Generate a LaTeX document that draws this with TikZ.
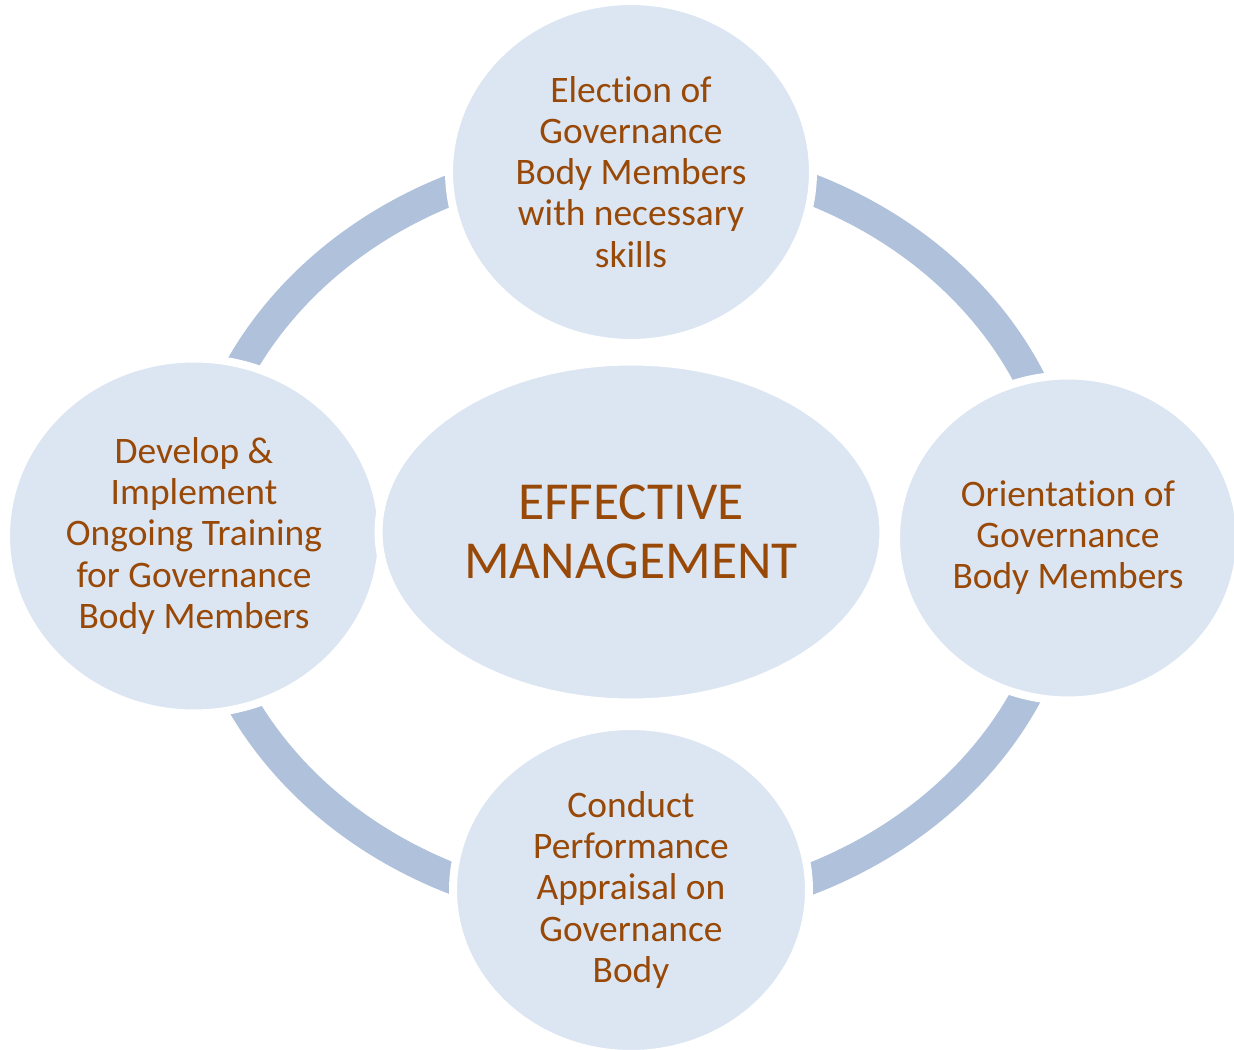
\documentclass[tikz,border=0pt]{standalone}
\usepackage{fontspec}
\setmainfont[Ligatures={NoCommon,NoContextual}, RawFeature={-liga;-dlig;-clig}]{Carlito}
\usepackage{tikz}
\usetikzlibrary{shapes.geometric}
\definecolor{ringblue}{RGB}{176,193,219}
\definecolor{bubblefill}{RGB}{220,230,242}
\definecolor{textbrown}{RGB}{152,72,7}
\newcommand{\ringwidth}{0.62cm}
\newcommand{\gapwidth}{0.16cm}
\tikzset{
    bubble/.style={ellipse, fill=bubblefill, draw=white, line width=\gapwidth, inner sep=0pt,
        align=center, text=textbrown, font=\fontsize{21.3}{23.4}\selectfont},
    hub/.style={bubble, font=\fontsize{30.4}{33.6}\selectfont},
    ring/.style={draw=ringblue, line width=\ringwidth}
}

\begin{document}
\begin{tikzpicture}[x=0.02cm, y=-0.02cm]
    \useasboundingbox (0,0) rectangle (1234,1050);
    \draw[ring] (632,534) ellipse [x radius=436, y radius=378];
    \node[bubble, minimum width=7.28cm, minimum height=6.84cm] (election) at (631,172)
        {Election of\\Governance\\Body Members\\with necessary\\skills};
    \node[bubble, minimum width=6.88cm, minimum height=6.5cm] (orientation) at (1068,538)
        {Orientation of\\Governance\\Body Members};
    \node[bubble, minimum width=7.12cm, minimum height=6.56cm] (appraisal) at (631,890)
        {Conduct\\Performance\\Appraisal on\\Governance\\Body};
    \node[bubble, minimum width=7.52cm, minimum height=7.1cm] (training) at (194,536)
        {Develop \&\\Implement\\Ongoing Training\\for Governance\\Body Members};
    \node[hub, minimum width=10.1cm, minimum height=6.82cm] (management) at (631,532)
        {EFFECTIVE\\MANAGEMENT};
\end{tikzpicture}
\end{document}
